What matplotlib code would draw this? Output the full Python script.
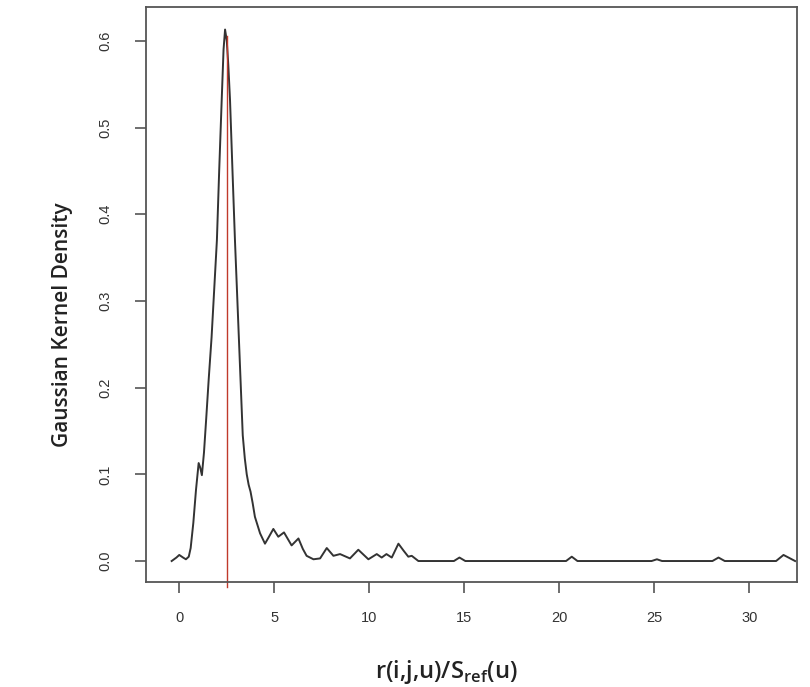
import matplotlib
matplotlib.use('Agg')
import matplotlib.pyplot as plt

# density curve
x_vals = [-0.40, -0.15, 0.00, 0.20, 0.35, 0.50, 0.60, 0.74, 0.88, 1.02, 1.10, 1.19,
          1.30, 1.42, 1.55, 1.70, 1.85, 1.98, 2.10, 2.23, 2.33, 2.41, 2.50, 2.58,
          2.67, 2.80, 2.93, 3.04, 3.14, 3.24, 3.34, 3.45, 3.55, 3.65, 3.75, 3.86,
          3.98, 4.25, 4.51, 4.72, 4.95, 5.21, 5.51, 5.91, 6.27, 6.50, 6.70, 7.06,
          7.41, 7.76, 8.11, 8.46, 8.98, 9.42, 9.95, 10.39, 10.65, 10.90, 11.18,
          11.53, 11.80, 12.05, 12.23, 12.58, 14.45, 14.74, 15.05, 20.35, 20.65,
          20.95, 24.85, 25.13, 25.40, 28.05, 28.37, 28.70, 31.40, 31.79, 32.40]
y_vals = [0.000, 0.004, 0.007, 0.004, 0.002, 0.005, 0.015, 0.044, 0.082, 0.113, 0.108, 0.099,
          0.125, 0.165, 0.210, 0.258, 0.318, 0.370, 0.450, 0.530, 0.590, 0.613, 0.600, 0.572,
          0.532, 0.450, 0.370, 0.310, 0.255, 0.200, 0.145, 0.118, 0.100, 0.088, 0.080, 0.067,
          0.051, 0.032, 0.020, 0.028, 0.037, 0.028, 0.033, 0.018, 0.026, 0.014, 0.006, 0.002,
          0.003, 0.015, 0.006, 0.008, 0.003, 0.013, 0.002, 0.008, 0.004, 0.008, 0.004,
          0.020, 0.012, 0.005, 0.006, 0.000, 0.000, 0.004, 0.000, 0.000, 0.005,
          0.000, 0.000, 0.002, 0.000, 0.000, 0.004, 0.000, 0.000, 0.007, 0.000]
marker_x = 2.49
x_ticks = [0, 5, 10, 15, 20, 25, 30]
y_ticks = [0.0, 0.1, 0.2, 0.3, 0.4, 0.5, 0.6]

fig = plt.figure(figsize=(8.1, 6.87), dpi=100)
ax = fig.add_axes([146 / 810, 1 - 582 / 687, (797 - 146) / 810, (582 - 7) / 687])

ax.plot(x_vals, y_vals, color='#333333', lw=1.4)
ax.plot([marker_x, marker_x], [0.605, -0.030], color='#c0392b', lw=1.0, clip_on=False)

ax.set_xlim(-1.75, 32.5)
ax.set_ylim(-0.0242, 0.639)
ax.set_xticks(x_ticks)
ax.set_yticks(y_ticks)
ax.set_xticklabels([str(t) for t in x_ticks])
ax.set_yticklabels(['%.1f' % t for t in y_ticks], rotation=90, va='center')

for s in ax.spines.values():
    s.set_color('#555555')
    s.set_linewidth(1.3)
ax.tick_params(direction='out', length=8, width=1.2, color='#555555',
               labelcolor='#333333', labelsize=10.5)
ax.tick_params(axis='x', pad=13)
ax.tick_params(axis='y', pad=16)
for lab in ax.get_xticklabels() + ax.get_yticklabels():
    lab.set_family('Liberation Sans')

ax.set_ylabel('Gaussian Kernel Density', fontsize=15, family='Open Sans',
              fontweight='semibold', color='#222222', va='center')
ax.yaxis.set_label_coords(-0.129, 0.447)
ax.set_xlabel(r'r(i,j,u)/S$_{\mathregular{ref}}$(u)', fontsize=17, family='Open Sans',
              fontweight='semibold', color='#222222', va='center')
ax.xaxis.set_label_coords(0.462, -0.157)

fig.savefig('out.png', dpi=100)
